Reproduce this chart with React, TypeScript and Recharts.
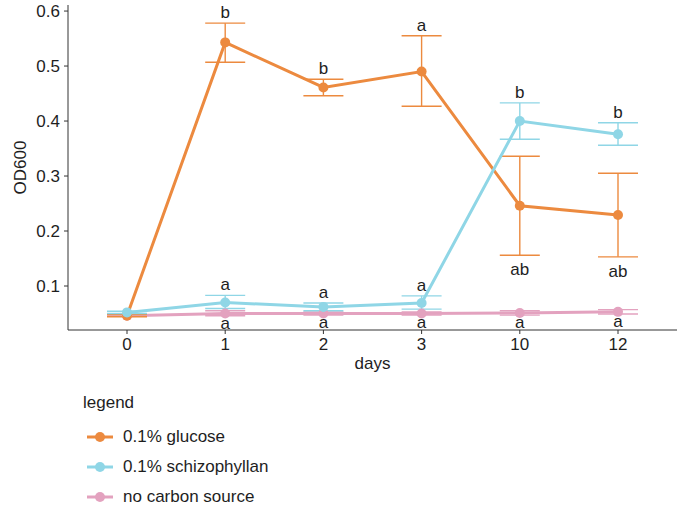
import React from 'react';
import { LineChart, Line, XAxis, YAxis, ErrorBar } from 'recharts';

const days = ['0', '1', '2', '3', '10', '12'];
const yTicks = [0.1, 0.2, 0.3, 0.4, 0.5, 0.6];

const glucose = [0.046, 0.543, 0.461, 0.490, 0.246, 0.229];
const glucoseLo = [0.044, 0.507, 0.446, 0.427, 0.156, 0.153];
const glucoseHi = [0.048, 0.578, 0.476, 0.555, 0.336, 0.305];
const glucoseLetters = ['', 'b', 'b', 'a', 'ab', 'ab'];
const glucoseSides = ['', 'above', 'above', 'above', 'below', 'below'];

const schizo = [0.052, 0.070, 0.062, 0.069, 0.400, 0.376];
const schizoLo = [0.050, 0.059, 0.055, 0.058, 0.367, 0.356];
const schizoHi = [0.054, 0.083, 0.069, 0.082, 0.433, 0.397];
const schizoLetters = ['', 'a', 'a', 'a', 'b', 'b'];
const schizoSides = ['', 'above', 'above', 'above', 'above', 'above'];

const noCarbon = [0.046, 0.050, 0.050, 0.050, 0.051, 0.053];
const noCarbonLo = [0.045, 0.046, 0.047, 0.047, 0.047, 0.049];
const noCarbonHi = [0.047, 0.055, 0.053, 0.053, 0.055, 0.057];
const noCarbonLetters = ['', 'a', 'a', 'a', 'a', 'a'];
const noCarbonSides = ['', 'below', 'below', 'below', 'below', 'below'];

const series = [
  { key: 'nc', name: 'no carbon source', color: '#E3A2BF', vals: noCarbon, lo: noCarbonLo, hi: noCarbonHi, letters: noCarbonLetters, sides: noCarbonSides, belowGap: 13 },
  { key: 'g', name: '0.1% glucose', color: '#EC8A3F', vals: glucose, lo: glucoseLo, hi: glucoseHi, letters: glucoseLetters, sides: glucoseSides, belowGap: 20 },
  { key: 's', name: '0.1% schizophyllan', color: '#8FD6E6', vals: schizo, lo: schizoLo, hi: schizoHi, letters: schizoLetters, sides: schizoSides, belowGap: 20 },
];
const legendOrder = ['g', 's', 'nc'];

const rows = days.map((d, i) => {
  const r: any = { day: d };
  series.forEach((s) => {
    r[s.key] = s.vals[i];
    r[s.key + 'Err'] = [s.vals[i] - s.lo[i], s.hi[i] - s.vals[i]];
    const side = s.sides[i];
    r[s.key + 'Anchor'] = side === 'above' ? s.hi[i] : side === 'below' ? s.lo[i] : null;
  });
  return r;
});

const FONT = '"Liberation Sans", Arial, sans-serif';
const TXT = '#1e1e1e';
const FS = 17;

const makeLetter = (s: any) => (props: any) => {
  const { x, y, index, value } = props;
  if (value == null || x == null || y == null) return null;
  const letter = s.letters[index];
  if (!letter) return null;
  const side = s.sides[index];
  const ty = side === 'above' ? y - 5 : y + s.belowGap;
  return (
    <text key={s.key + 'l' + index} x={x} y={ty} textAnchor="middle" fontSize={FS} fill={TXT} fontFamily={FONT}>
      {letter}
    </text>
  );
};

export default function App() {
  return (
    <div style={{ position: 'absolute', left: 0, top: 0, width: 679, height: 510, background: '#fff', fontFamily: FONT }}>
      <LineChart width={679} height={510} data={rows} margin={{ top: 5, right: 2, bottom: 140, left: 0 }}>
        <XAxis
          dataKey="day"
          height={40}
          padding={{ left: 59, right: 59 }}
          tick={{ fill: TXT, fontSize: FS, fontFamily: FONT }}
          tickSize={4}
          tickMargin={4}
          axisLine={{ stroke: '#333', strokeWidth: 1 }}
          tickLine={{ stroke: '#333' }}
          label={{ value: 'days', position: 'center', dy: 13, fill: TXT, fontSize: FS, fontFamily: FONT }}
        />
        <YAxis
          width={68}
          type="number"
          domain={[0.02, 0.611]}
          allowDataOverflow
          ticks={yTicks}
          tickFormatter={(v: number) => v.toFixed(1)}
          tick={{ fill: TXT, fontSize: FS, fontFamily: FONT }}
          tickSize={4}
          tickMargin={4}
          axisLine={{ stroke: '#333', strokeWidth: 1 }}
          tickLine={{ stroke: '#333' }}
          label={{ value: 'OD600', angle: -90, position: 'center', dx: -14, fill: TXT, fontSize: FS, fontFamily: FONT }}
        />
        {series.map((s) => (
          <Line
            key={s.key}
            dataKey={s.key}
            name={s.name}
            stroke={s.color}
            strokeWidth={3}
            dot={{ r: 5, fill: s.color, stroke: s.color, strokeWidth: 0 }}
            activeDot={false}
            isAnimationActive={false}
          >
            <ErrorBar dataKey={s.key + 'Err'} width={20} stroke={s.color} strokeWidth={1.4} direction="y" />
          </Line>
        ))}
        {series.map((s) => (
          <Line
            key={s.key + 'Anchor'}
            dataKey={s.key + 'Anchor'}
            stroke="none"
            dot={false}
            activeDot={false}
            legendType="none"
            isAnimationActive={false}
            label={makeLetter(s)}
          />
        ))}
      </LineChart>
      <div style={{ position: 'absolute', left: 83, top: 392, color: TXT, fontSize: FS, fontFamily: FONT }}>
        <div style={{ height: 22, lineHeight: '22px' }}>legend</div>
        <div style={{ height: 8 }} />
        {legendOrder.map((k) => {
          const s = series.find((x) => x.key === k)!;
          return (
            <div key={k} style={{ display: 'flex', alignItems: 'center', height: 30 }}>
              <svg width={34} height={14} style={{ marginRight: 6 }}>
                <line x1={4} y1={7} x2={30} y2={7} stroke={s.color} strokeWidth={3} />
                <circle cx={17} cy={7} r={5} fill={s.color} />
              </svg>
              <span>{s.name}</span>
            </div>
          );
        })}
      </div>
    </div>
  );
}
